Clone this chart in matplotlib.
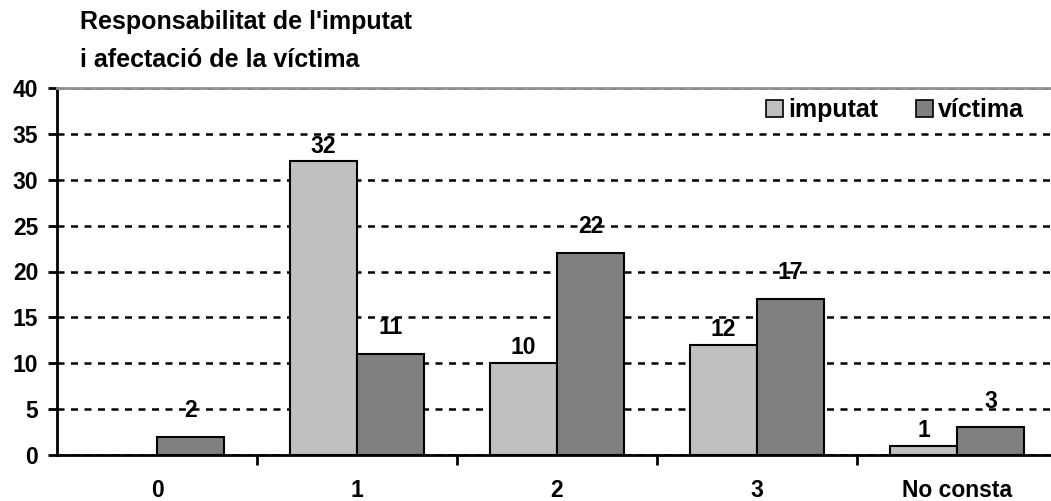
import numpy as np
from matplotlib import pyplot as plt
from matplotlib.ticker import FixedLocator

# dades del gràfic
categories = ['0', '1', '2', '3', 'No consta']
imputat = [np.nan, 32, 10, 12, 1]
victima = [2, 11, 22, 17, 3]
series_names = ['imputat', 'víctima']
y_ticks = [0, 5, 10, 15, 20, 25, 30, 35, 40]

plt.rcParams['font.family'] = ['Liberation Sans', 'DejaVu Sans']
plt.rcParams['font.weight'] = 'bold'

fig = plt.figure(figsize=(10.51, 5.01), dpi=100)
ax = fig.add_axes([57 / 1051, 46 / 501, 994 / 1051, 367 / 501])

x = np.arange(len(categories))
w = 0.335
b1 = ax.bar(x - w / 2, imputat, w, color='#c0c0c0', edgecolor='black',
            linewidth=1.5, label=series_names[0], zorder=3)
b2 = ax.bar(x + w / 2, victima, w, color='#808080', edgecolor='black',
            linewidth=1.5, label=series_names[1], zorder=3)

# etiquetes de valor
for bars, vals, off in [(b1, imputat, 11), (b2, victima, 19)]:
    for rect, v in zip(bars, vals):
        if np.isnan(v):
            continue
        ax.annotate(f'{v:g}', (rect.get_x() + rect.get_width() / 2, v),
                    xytext=(0, off), textcoords='offset points',
                    ha='center', va='center', fontsize=16.5, fontweight='bold',
                    zorder=5)

ax.set_xlim(-0.5, -0.5 + 994 / 200)
ax.set_ylim(0, 40)
ax.set_yticks(y_ticks)
ax.set_xticks(x)
ax.set_xticklabels(categories)
ax.xaxis.set_minor_locator(FixedLocator(x[:-1] + 0.5))
ax.tick_params(axis='x', which='major', length=0, pad=17, labelsize=16.5)
ax.tick_params(axis='x', which='minor', length=7, width=2, direction='out')
ax.tick_params(axis='y', length=6.5, width=2, pad=7, labelsize=16.5)

ax.yaxis.grid(True, color='black', linestyle=(0, (2.8, 2.6)), linewidth=1.8,
              zorder=1)
ax.set_axisbelow(True)

ax.spines['right'].set_visible(False)
ax.spines['top'].set_color('#909090')
ax.spines['top'].set_linewidth(2)
ax.spines['left'].set_linewidth(2)
ax.spines['bottom'].set_linewidth(2)

leg = ax.legend(loc='center right', bbox_to_anchor=(1024 / 1051, 1 - 110 / 501),
                bbox_transform=fig.transFigure, ncol=2, frameon=False,
                fontsize=18, handlelength=0.7, handleheight=0.7,
                handletextpad=0.2, columnspacing=1.5, borderaxespad=0,
                borderpad=0)
for h in leg.legend_handles:
    h.set_linewidth(1.2)

fig.text(80 / 1051, 1 - 10 / 501,
         "Responsabilitat de l'imputat\ni afectació de la víctima",
         ha='left', va='top', fontsize=18, fontweight='bold', linespacing=1.73)

fig.savefig('out.png', dpi=100)
